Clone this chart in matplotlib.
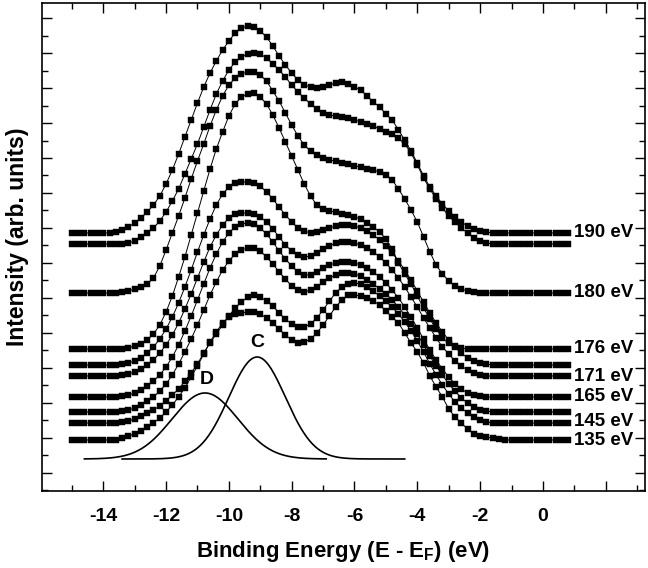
import numpy as np
import matplotlib
matplotlib.use("Agg")
from matplotlib import pyplot as plt
from matplotlib.ticker import FixedLocator, MultipleLocator, FuncFormatter

############## Fonts ##############
plt.rcParams['font.family'] = ['Liberation Sans', 'DejaVu Sans']
plt.rcParams['font.weight'] = 'bold'
plt.rcParams['axes.unicode_minus'] = False
plt.rcParams['mathtext.fontset'] = 'custom'
plt.rcParams['mathtext.rm'] = 'Liberation Sans:bold'
plt.rcParams['mathtext.bf'] = 'Liberation Sans:bold'

############## Data ##############
## binding energy grid of the spectra (eV), 0.2 eV step
energy = np.linspace(-15.0, 0.8, 80)

## spectra, top to bottom (arb. units)
s190 = [240]*7 + [241,
        243, 246, 250, 255, 261, 268, 277, 289, 303, 319,
        336, 353, 370, 386, 400, 412, 423, 432, 440, 445,
        447, 446, 442, 436, 427, 417, 408, 400, 393, 388,
        386, 385, 386, 388, 390, 391, 389, 386, 383, 377,
        371, 366, 359, 353, 343, 333, 322, 310, 297, 286,
        277, 269, 262, 256, 251, 247, 244, 242, 241, 240] + [240]*12
s_a = [229]*9 + [230, 232, 236, 240, 245, 252, 261, 272, 284,
       299, 314, 329, 346, 363, 379, 392, 403, 411, 416,
       419, 420, 419, 415, 409, 403, 396, 388, 381, 375,
       369, 364, 360, 358, 357, 356, 355, 353, 351, 349,
       347, 344, 341, 339, 335, 329, 320, 308, 295, 284,
       274, 265, 257, 251, 245, 240, 235, 232, 230, 229] + [229]*12
s180 = [180]*8 + [181, 182, 184, 186, 189, 195, 207, 223, 240, 257,
        275, 294, 312, 329, 347, 363, 377, 388, 395, 399,
        401, 401, 398, 392, 382, 372, 360, 348, 337, 328,
        322, 318, 315, 313, 312, 310, 309, 307, 306, 304,
        303, 301, 298, 293, 284, 274, 263, 251, 236, 221,
        208, 199, 192, 187, 184, 182, 181, 180, 180, 180] + [180]*12
s176 = [124]*9 + [125, 127, 129, 133, 139, 148, 161, 177, 196,
        216, 238, 260, 282, 304, 324, 341, 357, 369, 376,
        379, 380, 376, 369, 358, 345, 331, 317, 303, 289,
        277, 268, 264, 262, 261, 259, 258, 256, 254, 250,
        246, 241, 234, 224, 210, 199, 189, 177, 165, 154,
        144, 135, 130, 127, 125, 124, 124, 124, 124, 124] + [124]*12
s_b = [108]*8 + [109, 110, 112, 115, 120, 126, 134, 144, 156, 170,
       186, 203, 221, 238, 254, 268, 279, 286, 290, 291,
       291, 290, 287, 281, 274, 266, 258, 251, 245, 242,
       240, 241, 243, 245, 247, 248, 248, 247, 245, 242,
       238, 233, 227, 220, 212, 203, 193, 182, 171, 160,
       150, 141, 133, 126, 120, 115, 112, 110, 109, 108] + [108]*12
s171 = [97]*8 + [98, 99, 101, 104, 108, 113, 120, 128, 138, 150,
       164, 179, 195, 211, 226, 238, 248, 255, 259, 260,
       260, 259, 256, 251, 244, 236, 228, 222, 218, 216,
       217, 220, 224, 227, 230, 231, 231, 230, 228, 225,
       221, 216, 210, 203, 195, 186, 176, 166, 155, 145,
       135, 126, 119, 112, 107, 103, 100, 98, 97, 97] + [97]*12
s165 = [76]*8 + [77, 78, 80, 83, 87, 92, 98, 106, 116, 128,
       142, 157, 173, 189, 205, 219, 231, 240, 246, 249,
       250, 249, 245, 239, 231, 222, 214, 207, 201, 198,
       198, 201, 205, 208, 210, 211, 211, 210, 208, 205,
       201, 196, 190, 183, 175, 166, 156, 145, 134, 123,
       113, 104, 96, 89, 84, 80, 78, 77, 76, 76] + [76]*12
s_c = [61]*8 + [62, 63, 65, 68, 72, 76, 82, 89, 98, 109,
       121, 134, 148, 163, 178, 191, 203, 212, 219, 223,
       225, 225, 222, 216, 209, 201, 194, 187, 183, 181,
       183, 186, 191, 195, 198, 200, 200, 199, 197, 193,
       189, 184, 179, 173, 166, 158, 149, 139, 128, 117,
       107, 98, 89, 82, 75, 70, 66, 63, 62, 61] + [61]*12
s145 = [50]*8 + [51, 52, 54, 57, 60, 63, 67, 72, 78, 84,
       92, 100, 109, 120, 130, 139, 148, 157, 165, 171,
       176, 178, 176, 172, 167, 160, 154, 149, 146, 146,
       149, 155, 163, 172, 180, 186, 189, 190, 189, 186,
       182, 177, 172, 166, 159, 151, 142, 132, 121, 109,
       98, 88, 79, 71, 65, 60, 56, 53, 51, 50] + [50]*12
s135 = [33]*8 + [35, 37, 39, 42, 46, 50, 55, 61, 68, 76,
       85, 96, 107, 119, 131, 141, 150, 156, 159, 160,
       161, 161, 159, 155, 150, 144, 138, 133, 130, 131,
       134, 140, 148, 157, 166, 173, 178, 178, 177, 175,
       172, 168, 162, 156, 150, 140, 130, 121, 110, 97,
       86, 76, 64, 56, 50, 44, 39, 37, 36, 35] + [34] + [33]*11

spectra = [s190, s_a, s180, s176, s_b, s171, s165, s_c, s145, s135]

## photon energy labels and the level they sit at
labels = ["190 eV", "180 eV", "176 eV", "171 eV", "165 eV", "145 eV", "135 eV"]
label_levels = [240, 180, 124, 96, 76, 51, 32]

## fitted components D and C : centre (eV), height, width (eV), range (eV)
fit_names = ["D", "C"]
fit_centre = [-10.76, -9.1]
fit_height = [66, 102]
fit_sigma = [1.05, 0.9]
fit_range = [(-14.6, -6.9), (-13.4, -4.4)]
fit_base = 14
fit_label_pos = [(-10.7, 93), (-9.1, 130)]

############## Figure ##############
fig = plt.figure(figsize=(6.48, 5.68), dpi=100)
ax = fig.add_axes([0.0648, 0.1356, 0.9306, 0.8591])

for s in spectra:
    ax.plot(energy, s, color="black", lw=0.7, marker="s", ms=5.0,
            mfc="black", mec="black", mew=0.3)

for i in range(len(fit_names)):
    xg = np.linspace(fit_range[i][0], fit_range[i][1], 300)
    yg = fit_base + fit_height[i]*np.exp(-(xg - fit_centre[i])**2/(2*fit_sigma[i]**2))
    ax.plot(xg, yg, color="black", lw=1.2)
    ax.text(fit_label_pos[i][0], fit_label_pos[i][1], fit_names[i], ha="center",
            va="center", fontsize=14, fontweight="bold")

for lab, lev in zip(labels, label_levels):
    ax.text(1.0, lev, lab, ha="left", va="center", fontsize=13.5, fontweight="bold")

## axes
ax.set_xlim(-15.95, 3.25)
ax.set_ylim(-18, 470)
ax.xaxis.set_major_locator(FixedLocator([-14, -12, -10, -8, -6, -4, -2, 0, 2]))
ax.xaxis.set_minor_locator(FixedLocator([-15, -13, -11, -9, -7, -5, -3, -1, 1, 3]))
ax.xaxis.set_major_formatter(FuncFormatter(lambda v, p: "" if v > 0 else "%d" % v))
ax.yaxis.set_major_locator(MultipleLocator(35))
ax.yaxis.set_minor_locator(MultipleLocator(17.5))
ax.yaxis.set_major_formatter(FuncFormatter(lambda v, p: ""))
ax.tick_params(which="both", direction="in", top=True, right=True, width=1.0)
ax.tick_params(which="major", length=7, labelsize=14, pad=12)
ax.tick_params(which="minor", length=4)
for sp in ax.spines.values():
    sp.set_linewidth(1.2)

ax.set_xlabel(r"Binding Energy (E - E$_\mathbf{F}$) (eV)", fontsize=16, fontweight="bold", labelpad=10)
ax.set_ylabel("Intensity (arb. units)", fontsize=16.5, fontweight="bold")
ax.yaxis.set_label_coords(-0.022, 0.52)

fig.savefig("out.png", dpi=100)
